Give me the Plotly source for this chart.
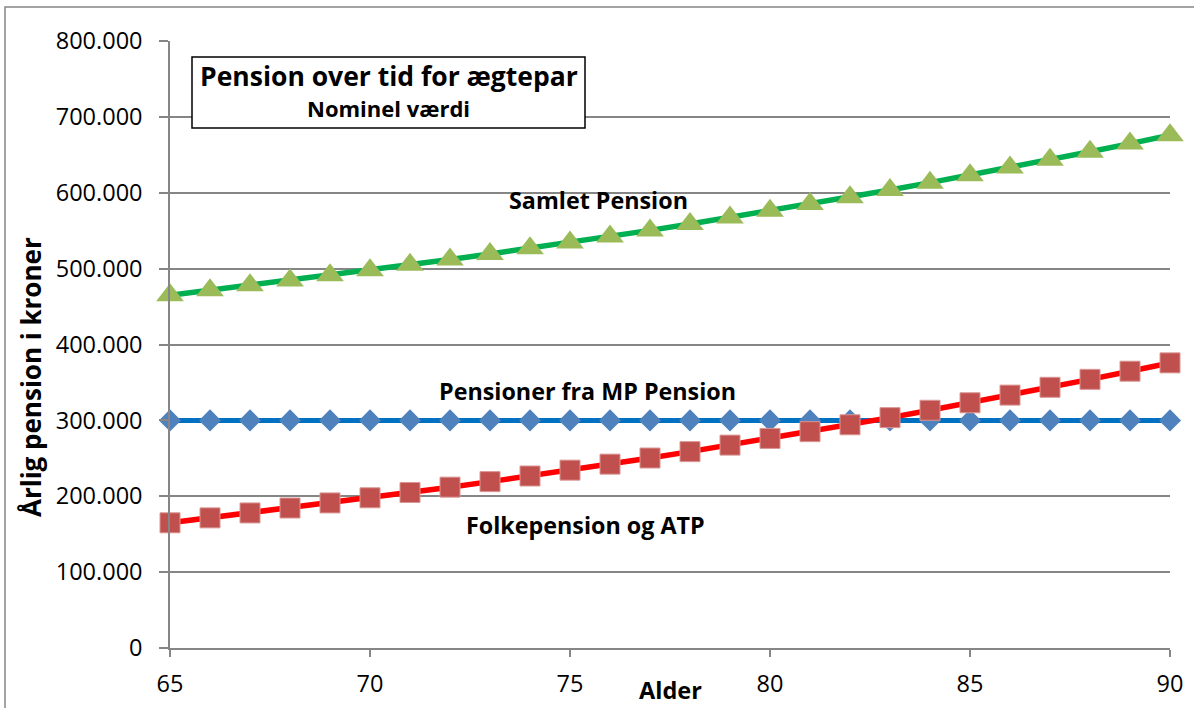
import plotly.graph_objects as go

# ---- data ----
ages = [65, 66, 67, 68, 69, 70, 71, 72, 73, 74, 75, 76, 77,
        78, 79, 80, 81, 82, 83, 84, 85, 86, 87, 88, 89, 90]

mp_pension = [300000, 300000, 300000, 300000, 300000, 300000, 300000,
              300000, 300000, 300000, 300000, 300000, 300000, 300000,
              300000, 300000, 300000, 300000, 300000, 300000, 300000,
              300000, 300000, 300000, 300000, 300000]

folkepension_atp = [165000, 171500, 178000, 184500, 191200, 198000, 205000,
                    212000, 219300, 226700, 234400, 242300, 250400, 258800,
                    267400, 276200, 285100, 294200, 303600, 313300, 323200,
                    333300, 343600, 354100, 364800, 375800]

samlet_pension = [465000, 471500, 478000, 484500, 491200, 498000, 505000,
                  512000, 519300, 526700, 534400, 542300, 550400, 558800,
                  567400, 576200, 585100, 594200, 603600, 613300, 623200,
                  633300, 643600, 654100, 664800, 675800]

x_ticks = [65, 70, 75, 80, 85, 90]

FONT = "Open Sans"
GRID = "#868686"

fig = go.Figure()

fig.add_trace(go.Scatter(
    x=ages, y=mp_pension, mode="lines+markers", name="Pensioner fra MP Pension",
    line=dict(color="#0070C0", width=5),
    marker=dict(symbol="diamond", size=17, color="#4F81BD"),
    cliponaxis=False))

fig.add_trace(go.Scatter(
    x=ages, y=folkepension_atp, mode="lines+markers", name="Folkepension og ATP",
    line=dict(color="#FF0000", width=5.5),
    marker=dict(symbol="square", size=20, color="#C0504D",
                line=dict(color="#D99694", width=1)),
    cliponaxis=False))

fig.add_trace(go.Scatter(
    x=ages, y=samlet_pension, mode="lines+markers", name="Samlet Pension",
    line=dict(color="#00B050", width=5.5),
    marker=dict(symbol="triangle-up", size=24, color="#9BBB59"),
    cliponaxis=False))

fig.update_layout(
    width=1194, height=708,
    margin=dict(l=170, r=24, t=41, b=60, pad=0),
    paper_bgcolor="white", plot_bgcolor="white",
    separators=",.",
    showlegend=False,
    font=dict(family=FONT, color="black"),
)

fig.update_xaxes(
    range=[65, 90], tickvals=x_ticks,
    showgrid=False, zeroline=False, automargin=False,
    showline=True, linecolor=GRID, linewidth=1.5,
    ticks="outside", ticklen=7, tickwidth=1.5, tickcolor=GRID,
    tickfont=dict(size=23.5, family=FONT, color="black"),
    ticklabelstandoff=7,
)

fig.update_yaxes(
    range=[0, 800000], dtick=100000, tickformat=",.0f",
    showgrid=True, gridcolor=GRID, gridwidth=1.5, zeroline=False, automargin=False,
    showline=True, linecolor=GRID, linewidth=1.5,
    ticks="outside", ticklen=9, tickwidth=1.5, tickcolor=GRID,
    tickfont=dict(size=23.5, family=FONT, color="black"),
    ticklabelstandoff=12,
)

# outer chart border
fig.add_shape(type="rect", xref="paper", yref="paper",
              x0=-0.165, x1=1.03, y0=-0.12, y1=1.056,
              line=dict(color="#868686", width=1.5), fillcolor="rgba(0,0,0,0)",
              layer="below")

# title box
fig.add_shape(type="rect", xref="paper", yref="paper",
              x0=0.022, x1=0.415, y0=0.8567, y1=0.9736,
              line=dict(color="black", width=1.5), fillcolor="white",
              layer="above")

fig.add_annotation(xref="paper", yref="paper", x=0.2185, y=(648 - 76) / 607,
                   text="<b>Pension over tid for ægtepar</b>", showarrow=False,
                   font=dict(size=26.5, family=FONT, color="black"),
                   xanchor="center", yanchor="middle")
fig.add_annotation(xref="paper", yref="paper", x=0.2185, y=(648 - 108) / 607,
                   text="<b>Nominel værdi</b>", showarrow=False,
                   font=dict(size=22, family=FONT, color="black"),
                   xanchor="center", yanchor="middle")

# series labels
LBL = dict(size=23.3, family=FONT, color="black")
fig.add_annotation(xref="paper", yref="paper", x=(598 - 170) / 1000, y=(648 - 200) / 607,
                   text="<b>Samlet Pension</b>", showarrow=False, font=LBL,
                   xanchor="center", yanchor="middle")
fig.add_annotation(xref="paper", yref="paper", x=(587 - 170) / 1000, y=(648 - 391) / 607,
                   text="<b>Pensioner fra MP Pension</b>", showarrow=False, font=LBL,
                   xanchor="center", yanchor="middle")
fig.add_annotation(xref="paper", yref="paper", x=(585 - 170) / 1000, y=(648 - 525) / 607,
                   text="<b>Folkepension og ATP</b>", showarrow=False, font=LBL,
                   xanchor="center", yanchor="middle")

# axis titles
fig.add_annotation(xref="paper", yref="paper", x=0.5, y=(648 - 690) / 607,
                   text="<b>Alder</b>", showarrow=False,
                   font=dict(size=23.5, family=FONT, color="black"),
                   xanchor="center", yanchor="middle")
fig.add_annotation(xref="paper", yref="paper", x=(31 - 170) / 1000, y=(648 - 377) / 607,
                   text="<b>Årlig pension i kroner</b>", showarrow=False, textangle=-90,
                   font=dict(size=26, family=FONT, color="black"),
                   xanchor="center", yanchor="middle")

fig.write_html("out.html",
               config={"displayModeBar": False},
               post_script="document.body.style.margin='0';document.body.style.overflow='hidden';")
